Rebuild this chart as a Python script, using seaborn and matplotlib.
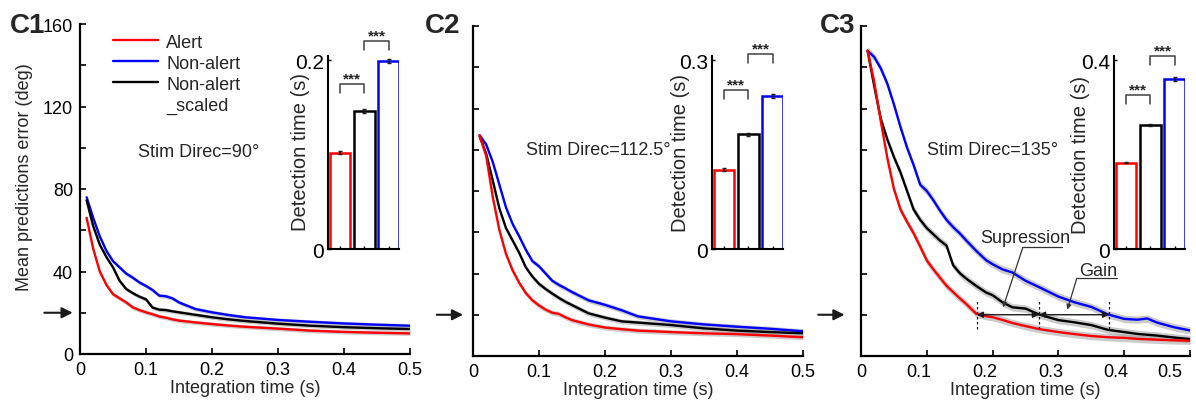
import numpy as np
import pandas as pd
import seaborn as sns
import matplotlib.pyplot as plt
import matplotlib.transforms as mtransforms
from matplotlib.lines import Line2D

# integration time grids (s)
t_c12 = [0.01, 0.02, 0.03, 0.04, 0.05, 0.06, 0.07, 0.08, 0.09, 0.10, 0.11, 0.12,
         0.13, 0.14, 0.15, 0.175, 0.2, 0.225, 0.25, 0.3, 0.35, 0.4, 0.45, 0.5]
t_c3 = [0.01, 0.02, 0.03, 0.04, 0.05, 0.06, 0.07, 0.08, 0.09, 0.10, 0.11, 0.12,
        0.13, 0.14, 0.15, 0.16, 0.175, 0.19, 0.2, 0.215, 0.23, 0.25, 0.27, 0.3,
        0.325, 0.35, 0.375, 0.4, 0.42, 0.435, 0.45, 0.475, 0.5]

# mean prediction error (deg)
c1_alert = [66, 51, 40, 33.5, 29, 27, 25, 22.6, 21.3, 20.2, 19.3, 18.2, 17.6, 16.8,
            16.2, 15.3, 14.5, 13.8, 13.2, 12.3, 11.3, 10.7, 10.3, 10.0]
c1_nonalert = [76, 66, 57, 50, 45, 42, 39, 37, 34.7, 33, 31, 28.3, 28.0, 27, 25,
               21.8, 20.2, 18.9, 17.8, 16.5, 15.6, 14.8, 14.2, 13.7]
c1_scaled = [74.5, 62, 53, 47, 42, 35.5, 31.5, 29.5, 27.8, 26.5, 22.5, 21.5, 21.3,
             20.7, 20.2, 19, 17.8, 16.8, 16, 14.7, 13.7, 13.0, 12.5, 12.1]

c2_alert = [107, 97, 77, 61, 49.5, 41.5, 35.5, 30.5, 27, 24.5, 22.5, 21, 20.4, 18.8,
            17.4, 15.3, 13.8, 13.0, 12.3, 11.6, 11.0, 10.6, 9.9, 9.1]
c2_nonalert = [107, 102.5, 94, 83, 72, 64, 58, 51.5, 46, 43.5, 40, 36.5, 34.5, 32.8,
               31, 27, 24.8, 22.2, 19.2, 16.8, 15.3, 14.2, 13.2, 12]
c2_scaled = [106.5, 98, 85, 71.5, 62, 56, 50, 43, 38.5, 35, 32.5, 30.3, 28.2, 26.3,
             24.7, 20.7, 18.6, 16.8, 16.2, 15, 13.4, 12.3, 11.6, 11]

c3_alert = [148, 133, 114, 96, 81, 71, 65, 59.5, 53, 46.3, 42, 38, 34, 31, 28, 25.2,
            20.5, 19.3, 18.8, 17.5, 16, 14.5, 13.1, 11.6, 10.6, 9.7, 9.1, 8.8, 8.3,
            8.1, 7.9, 7.6, 7.4]
c3_nonalert = [148, 145, 139.5, 132, 122, 111, 101, 92.5, 83, 80, 75.5, 70.5, 66,
               62.5, 59.5, 56, 51, 46.5, 44.5, 42, 40.5, 36.5, 33.5, 28.8, 26, 23.8,
               20.2, 18, 17.6, 18.2, 16.2, 14, 12.4]
c3_scaled = [148, 131, 115, 105, 96.5, 89, 80, 71, 66, 62, 59, 56, 53.5, 44, 40.2,
             37.5, 34, 30.8, 29.5, 26, 23.6, 23, 20.2, 17.4, 16.3, 15, 12.7, 11.6,
             10.7, 10.3, 9.9, 9.0, 8.2]

# detection time insets (s): alert, non-alert scaled, non-alert
c1_detect = [0.102, 0.146, 0.199]
c2_detect = [0.126, 0.182, 0.243]
c3_detect = [0.183, 0.2625, 0.360]
c1_detect_err = [0.0015, 0.002, 0.0025]
c2_detect_err = [0.002, 0.002, 0.003]
c3_detect_err = [0.002, 0.003, 0.004]

panel_names = ["C1", "C2", "C3"]
stim_labels = ["Stim Direc=90°", "Stim Direc=112.5°", "Stim Direc=135°"]
inset_top_tick = [0.2, 0.3, 0.4]
inset_top_label = ["0.2", "0.3", "0.4"]

threshold = 20                       # deg, the arrow on the y axis
c3_cross = [0.176, 0.2705, 0.377]    # where each C3 curve reaches the threshold

COLORS = {"Alert": "#ff0000", "Non-alert": "#0000ff", "Non-alert_scaled": "#000000"}
W, H = 1196, 406


def px_rect(left, top, right, bottom):
    return [left / W, (H - bottom) / H, (right - left) / W, (bottom - top) / H]


# plot the three error curves with a thin grey band around them
def draw_curves(ax, t, alert, nonalert, scaled, band):
    df = pd.DataFrame({"t": t, "Alert": alert, "Non-alert": nonalert,
                       "Non-alert_scaled": scaled})
    long = df.melt("t", var_name="cond", value_name="err")
    for cond in ["Non-alert", "Non-alert_scaled", "Alert"]:
        sub = long[long.cond == cond]
        ax.fill_between(sub.t, sub.err - band, sub.err + band, color="0.55",
                        alpha=0.45, lw=0)
    sns.lineplot(data=long, x="t", y="err", hue="cond", palette=COLORS,
                 hue_order=["Non-alert", "Non-alert_scaled", "Alert"],
                 lw=1.7, ax=ax, legend=False)


def style_main(ax, show_labels):
    ax.set_xlim(0, 0.5)
    ax.set_ylim(0, 160)
    ax.set_xticks([0, 0.1, 0.2, 0.3, 0.4, 0.5], labels=["0", "0.1", "0.2", "0.3", "0.4", "0.5"])
    ax.set_yticks(np.arange(0, 161, 20))
    if show_labels:
        ax.set_yticklabels([str(v) if v % 40 == 0 else "" for v in range(0, 161, 20)])
        ax.set_ylabel("Mean predictions error (deg)")
        ax.yaxis.set_label_coords(-0.142, 0.54)
    else:
        ax.set_yticklabels([])
        ax.set_ylabel("")
    ax.set_xlabel("Integration time (s)", labelpad=1)
    ax.tick_params(direction="in", length=4, width=1.2, pad=5)
    sns.despine(ax=ax)
    for s in ["left", "bottom"]:
        ax.spines[s].set_linewidth(1.6)
    ax.patch.set_alpha(0)


def threshold_arrow(ax, tail, tip):
    trans = mtransforms.blended_transform_factory(ax.transAxes, ax.transData)
    ax.annotate("", xy=(tip, threshold), xytext=(tail, threshold),
                xycoords=trans, textcoords=trans, annotation_clip=False,
                arrowprops=dict(arrowstyle="-|>", color="k", lw=1.5,
                                mutation_scale=16, shrinkA=0, shrinkB=0))


def draw_inset(fig, rect, vals, errs, top_tick, top_label, brackets, label_xy):
    ax = fig.add_axes(rect)
    cond = ["Alert", "Non-alert_scaled", "Non-alert"]
    sns.barplot(x=cond, y=vals, hue=cond, palette=COLORS, fill=False,
                linewidth=1.8, width=0.85, errorbar=None, legend=False, ax=ax)
    ax.errorbar([0, 1, 2], vals, yerr=errs, fmt="none", ecolor="k",
                elinewidth=1.2, capsize=1.5)
    ax.set_xlim(-0.5, 2.42)
    ax.set_ylim(0, top_tick * 193 / 189)
    ax.set_xticks([0, 1, 2], labels=["", "", ""])
    ax.set_yticks([0, top_tick], labels=["0", top_label])
    ax.set_xlabel("")
    ax.set_ylabel("Detection time (s)", fontsize=14.5)
    ax.yaxis.set_label_coords(*label_xy)
    ax.tick_params(direction="in", length=2, width=1, pad=3, labelsize=15)
    sns.despine(ax=ax)
    for s in ["left", "bottom"]:
        ax.spines[s].set_linewidth(1.5)
    ax.patch.set_alpha(0)

    # significance brackets
    trans = mtransforms.blended_transform_factory(ax.transData, ax.transAxes)
    for (i, j), yb in zip([(0, 1), (1, 2)], brackets):
        ax.plot([i, i, j, j], [yb - 0.045, yb, yb, yb - 0.045], color="0.25",
                lw=1.1, transform=trans, clip_on=False)
        ax.text((i + j) / 2, yb + 0.03, "***", ha="center", va="center",
                fontsize=11, fontweight="bold", transform=trans)
    return ax


def callout(ax, text, text_xy, line_x, line_y, target):
    ax.text(text_xy[0], text_xy[1], text, ha="center", va="center")
    ax.plot(line_x, [line_y, line_y], color="0.2", lw=0.9)
    ax.annotate("", xy=target, xytext=(line_x[0], line_y),
                arrowprops=dict(arrowstyle="-|>", color="0.2", lw=0.9,
                                mutation_scale=7, shrinkA=0, shrinkB=0))


def main():
    sns.set_theme(style="ticks")
    plt.rcParams["font.family"] = ["Liberation Sans", "DejaVu Sans"]
    plt.rcParams["font.size"] = 13
    plt.rcParams["axes.labelsize"] = 13
    plt.rcParams["xtick.labelsize"] = 13
    plt.rcParams["ytick.labelsize"] = 13
    plt.rcParams["axes.edgecolor"] = "black"
    plt.rcParams["xtick.color"] = "black"
    plt.rcParams["ytick.color"] = "black"

    fig = plt.figure(figsize=(W / 100, H / 100), dpi=100)

    main_rects = [px_rect(80, 25, 410, 355), px_rect(473, 27, 803, 357),
                  px_rect(861, 27, 1190, 357)]
    inset_rects = [px_rect(328, 57, 399, 250), px_rect(712, 57, 783, 250),
                   px_rect(1114, 57, 1185, 250)]
    curves = [(t_c12, c1_alert, c1_nonalert, c1_scaled, 1.0),
              (t_c12, c2_alert, c2_nonalert, c2_scaled, 1.2),
              (t_c3, c3_alert, c3_nonalert, c3_scaled, 1.8)]
    insets = [(c1_detect, c1_detect_err), (c2_detect, c2_detect_err),
              (c3_detect, c3_detect_err)]
    brackets = [(0.855, 1.078), (0.824, 1.010), (0.798, 1.0)]
    inset_label_xy = [(-0.26, 0.51), (-0.31, 0.5), (-0.34, 0.49)]
    arrows = [(-0.108, -0.022), (-0.11, -0.03), (-0.13, -0.05)]
    stim_xy = [(0.18, 98), (0.19, 100), (0.20, 100)]
    name_x = [10, 425, 820]

    for k in range(3):
        ax = fig.add_axes(main_rects[k])
        t, a, n, s, band = curves[k]
        draw_curves(ax, t, a, n, s, band)
        style_main(ax, show_labels=(k == 0))
        threshold_arrow(ax, *arrows[k])
        ax.text(*stim_xy[k], stim_labels[k], ha="center", va="center")
        fig.text(name_x[k] / W, (H - 33) / H, panel_names[k], fontsize=20,
                 fontweight="bold", ha="left", va="baseline")

        if k == 0:
            handles = [Line2D([], [], color=COLORS["Alert"], lw=1.7),
                       Line2D([], [], color=COLORS["Non-alert"], lw=1.7),
                       Line2D([], [], color=COLORS["Non-alert_scaled"], lw=1.7),
                       Line2D([], [], color="none")]
            leg = ax.legend(handles, ["Alert", "Non-alert", "Non-alert", "x"],
                            loc="upper left", bbox_to_anchor=(0.05, 1.02),
                            frameon=False, handlelength=2.5, handletextpad=0.45,
                            labelspacing=0.22, fontsize=13)
            leg.get_texts()[3].set_text("_scaled")

        if k == 2:
            for x in c3_cross:
                ax.plot([x, x], [13, 26.8], color="k", ls=(0, (2, 2)), lw=0.9)
            for x0, x1 in zip(c3_cross[:-1], c3_cross[1:]):
                ax.annotate("", xy=(x1, threshold), xytext=(x0, threshold),
                            arrowprops=dict(arrowstyle="<|-|>", color="k", lw=1,
                                            mutation_scale=9, shrinkA=0, shrinkB=0))
            callout(ax, "Supression", (0.25, 57.5), [0.246, 0.305], 52.7, (0.216, 23.6))
            callout(ax, "Gain", (0.36, 41.4), [0.328, 0.389], 37.7, (0.3136, 22.5))
            # tick labels sit slightly left of their ticks in the original
            shifts = [0, -8, -8, -8, -8, -20]
            for tick, dx in zip(ax.xaxis.get_major_ticks(), shifts):
                tick.label1.set_transform(tick.label1.get_transform() +
                                          mtransforms.ScaledTranslation(dx / 100, 0, fig.dpi_scale_trans))

        vals, errs = insets[k]
        draw_inset(fig, inset_rects[k], vals, errs, inset_top_tick[k],
                   inset_top_label[k], brackets[k], inset_label_xy[k])

    fig.savefig("out.png", dpi=100)
    plt.close(fig)


if __name__ == "__main__":
    main()
